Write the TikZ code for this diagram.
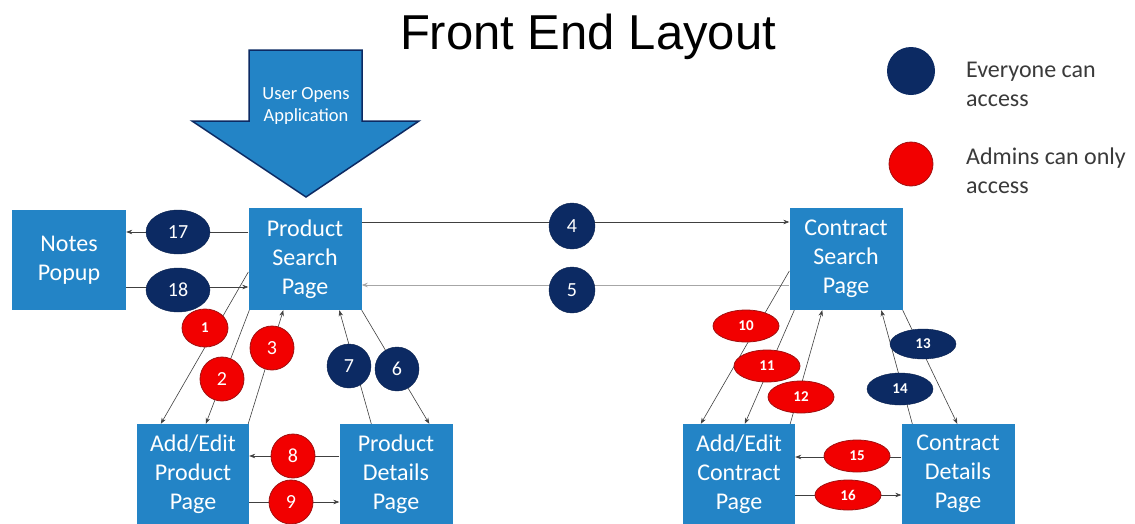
\documentclass[tikz,border=0pt]{standalone}
\usepackage{fontspec}
\setmainfont{Carlito}
\newfontfamily\titlefont{Liberation Sans}
\usetikzlibrary{shapes.geometric,arrows.meta}
\definecolor{boxblue}{HTML}{2384C6}
\definecolor{navy}{HTML}{0C2A63}
\definecolor{redfill}{HTML}{F20000}
\definecolor{redline}{HTML}{A01010}
\definecolor{legtext}{HTML}{3A3A3A}
\definecolor{linegray}{HTML}{404040}
\tikzset{
  pagebox/.style={rectangle, fill=boxblue, text=white, align=center, inner sep=0pt,
    minimum width=113pt, minimum height=102pt, font=\fontsize{24}{29}\selectfont},
  lowbox/.style={pagebox, minimum height=100pt},
  conn/.style={draw=linegray, line width=0.6pt, -{Stealth[length=6pt,width=4.5pt]}},
  navyell/.style={ellipse, fill=navy, draw=navy!80!black, text=white, inner sep=0pt},
  redell/.style={ellipse, fill=redfill, draw=redline, line width=0.8pt, text=white, inner sep=0pt},
  bignum/.style={font=\fontsize{20}{20}\selectfont},
  smallnum/.style={font=\fontsize{15}{15}\selectfont\bfseries},
  legtxt/.style={anchor=west, align=left, text=legtext, font=\fontsize{24}{29}\selectfont, inner sep=0pt}
}
\begin{document}
\begin{tikzpicture}[x=1pt,y=-1pt]
\useasboundingbox[fill=white] (0,0) rectangle (1135,523);

% title
\node[font=\titlefont\fontsize{49}{52}\selectfont, inner sep=0pt] (title) at (588,37) {Front End Layout};

% big arrow
\draw[fill=boxblue, draw=navy, line width=1.5pt, line join=miter]
  (249,50) -- (362,50) -- (362,121) -- (419,121) -- (306,197) -- (192,121) -- (249,121) -- cycle;
\node[text=white, align=center, font=\fontsize{18.5}{22}\selectfont, inner sep=0pt] (open) at (306,106) {User Opens\\Application};

% legend
\node[circle, fill=navy, minimum size=48pt, inner sep=0pt] (legnavy) at (911,71) {};
\node[circle, fill=redfill, draw=redline, line width=0.8pt, minimum size=44pt, inner sep=0pt] (legred) at (911,164) {};
\node[legtxt] (legt1) at (966,84) {Everyone can\\access};
\node[legtxt] (legt2) at (966,171) {Admins can only\\access};

% boxes
\node[pagebox, minimum width=114pt, minimum height=100pt] (np) at (69,260) {Notes\\Popup};
\node[pagebox] (ps) at (305,259) {Product\\Search\\Page};
\node[pagebox] (cs) at (846,259) {Contract\\Search\\Page};
\node[lowbox, minimum width=112pt] (aep) at (193,474) {Add/Edit\\Product\\Page};
\node[lowbox] (pd) at (396,474) {Product\\Details\\Page};
\node[lowbox, minimum width=112pt] (aec) at (739,474) {Add/Edit\\Contract\\Page};
\node[lowbox] (cd) at (958,474) {Contract\\Details\\Page};

% connectors
\draw[conn] ([yshift=27pt]ps.west) -- ([yshift=27pt]ps.west -| np.east);
\draw[conn] ([yshift=-28pt]ps.west -| np.east) -- ([yshift=-28pt]ps.west);
\draw[conn] ([yshift=37pt]ps.east) -- ([yshift=37pt]ps.east -| cs.west);
\draw[conn, draw=gray!70, line width=0.9pt] ([yshift=-26pt]cs.west) -- ([yshift=-26pt]cs.west -| ps.east);
\draw[conn] ([yshift=-13pt]ps.west) -- ([xshift=24pt]aep.north west);
\draw[conn] ([xshift=1pt]ps.south west) -- ([xshift=69pt]aep.north west);
\draw[conn] ([xshift=-1pt]aep.north east) -- ([xshift=35pt]ps.south west);
\draw[conn] ([xshift=32pt]pd.north west) -- ([xshift=91pt]ps.south west);
\draw[conn] (ps.south east) -- ([xshift=90pt]pd.north west);
\draw[conn] ([yshift=18pt]pd.west) -- ([yshift=18pt]pd.west -| aep.east);
\draw[conn] ([yshift=-28pt]aep.east) -- ([yshift=-28pt]aep.east -| pd.west);
\draw[conn] ([yshift=-12pt]cs.west) -- ([xshift=18pt]aec.north west);
\draw[conn] ([xshift=5pt]cs.south west) -- ([xshift=62pt]aec.north west);
\draw[conn] ([xshift=-5pt]aec.north east) -- ([xshift=33pt]cs.south west);
\draw[conn] (cs.south east) -- ([xshift=56pt]cd.north west);
\draw[conn] ([xshift=11pt]cd.north west) -- ([xshift=92pt]cs.south west);
\draw[conn] ([yshift=17pt]cd.west) -- ([yshift=17pt]cd.west -| aec.east);
\draw[conn] ([yshift=-21pt]aec.east) -- ([yshift=-21pt]aec.east -| cd.west);

% labels
\node[navyell, bignum, minimum width=64pt, minimum height=44pt] (l17) at (178,232) {17};
\node[navyell, bignum, minimum width=64pt, minimum height=44pt] (l18) at (178,290) {18};
\node[navyell, bignum, minimum width=46pt, minimum height=46pt] (l4) at (572,226) {4};
\node[navyell, bignum, minimum width=46pt, minimum height=46pt] (l5) at (572,290) {5};
\node[redell, smallnum, minimum width=46pt, minimum height=38pt] (l1) at (205,328) {1};
\node[redell, bignum, minimum width=44pt, minimum height=44pt] (l2) at (222,379) {2};
\node[redell, bignum, minimum width=44pt, minimum height=44pt] (l3) at (272,348) {3};
\node[navyell, bignum, minimum width=44pt, minimum height=44pt] (l7) at (349,366) {7};
\node[navyell, bignum, minimum width=44pt, minimum height=44pt] (l6) at (397,369) {6};
\node[redell, bignum, minimum width=44pt, minimum height=44pt] (l8) at (293,456) {8};
\node[redell, bignum, minimum width=44pt, minimum height=44pt] (l9) at (291,502) {9};
\node[redell, smallnum, minimum width=66pt, minimum height=32pt] (l10) at (746,326) {10};
\node[redell, smallnum, minimum width=66pt, minimum height=32pt] (l11) at (767,366) {11};
\node[redell, smallnum, minimum width=66pt, minimum height=32pt] (l12) at (801,397) {12};
\node[navyell, smallnum, minimum width=66pt, minimum height=30pt] (l13) at (923,344) {13};
\node[navyell, smallnum, minimum width=66pt, minimum height=32pt] (l14) at (900,389) {14};
\node[redell, smallnum, minimum width=66pt, minimum height=32pt] (l15) at (857,456) {15};
\node[redell, smallnum, minimum width=66pt, minimum height=30pt] (l16) at (848,495) {16};
\end{tikzpicture}
\end{document}
